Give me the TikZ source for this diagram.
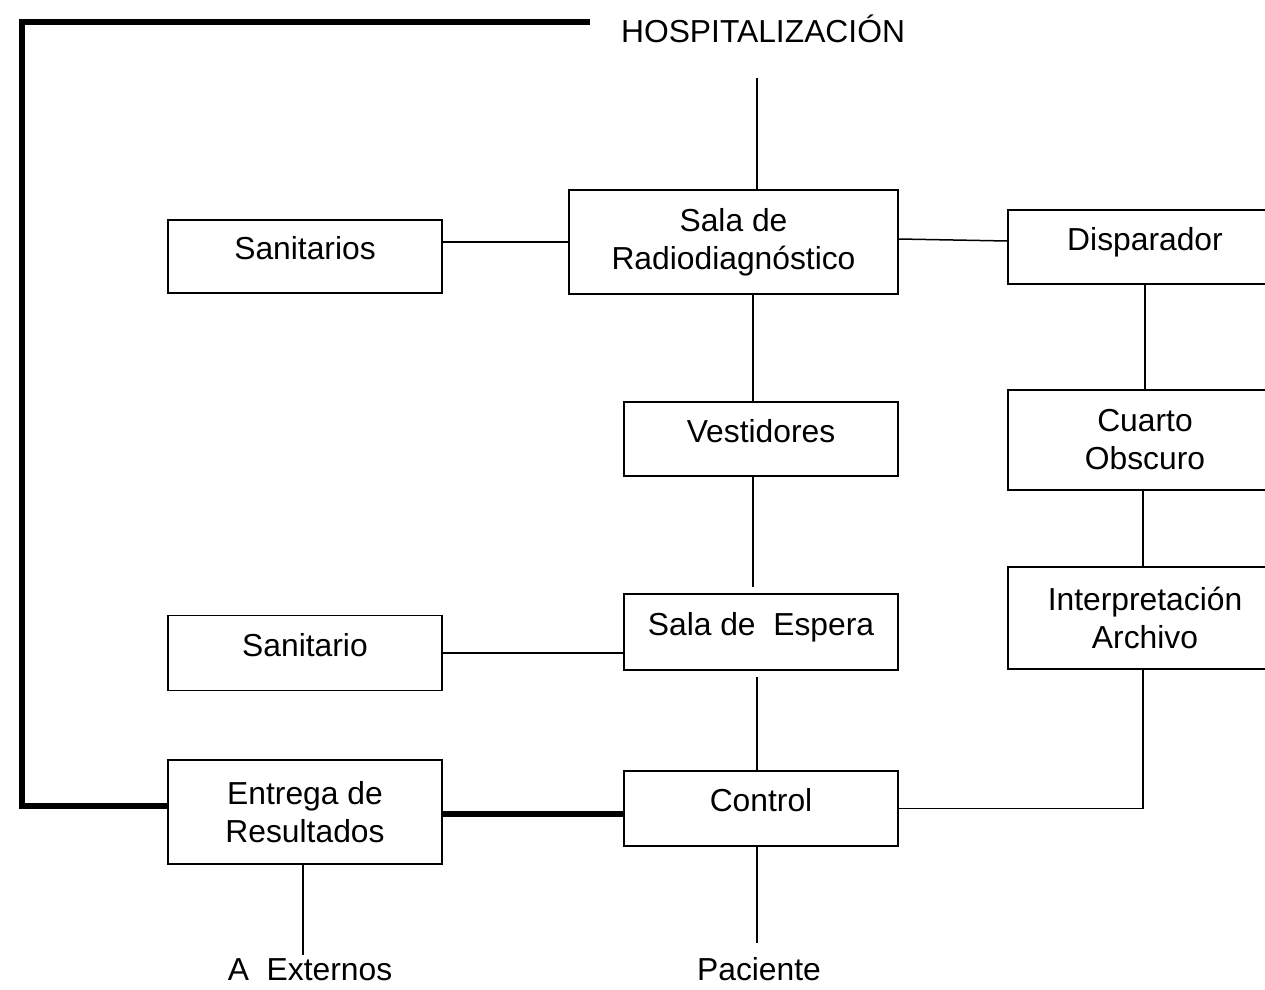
\documentclass[tikz,border=0pt]{standalone}
\usepackage{fontspec}
\setmainfont{Liberation Sans}
\usetikzlibrary{positioning,calc}
\tikzset{
  room/.style={
    rectangle, draw, line width=0.75pt, inner sep=0pt,
    minimum width=137pt, minimum height=37pt,
    align=center, font=\fontsize{15.9pt}{19pt}\selectfont
  },
  roomS/.style={
    room, text height=11.9pt, text depth=8.5pt
  },
  tag/.style={
    inner sep=0pt, text height=11.4pt, text depth=0pt,
    font=\fontsize{15.9pt}{19pt}\selectfont
  },
  link/.style={line width=0.75pt},
  wall/.style={line width=2.8pt}
}

\begin{document}
\begin{tikzpicture}[x=0.5pt, y=-0.5pt]
  \useasboundingbox (0,0) rectangle (1265,990);
  \clip (0,0) rectangle (1265,990);

  \node[tag] (hosp) at (763,31.5) {HOSPITALIZACIÓN};

  \node[room, minimum width=164.5pt, minimum height=52pt]
    (sala) at (733.5,242) {Sala de\\Radiodiagnóstico};
  \node[roomS, minimum height=36.5pt] (san1) at (305,256.5) {Sanitarios};
  \node[roomS, minimum height=37pt] (disp) at (1145,247) {Disparador};
  \node[room, minimum height=50pt] (cuarto) at (1145,440) {Cuarto\\Obscuro};
  \node[room, minimum height=51pt] (interp) at (1145,618) {Interpretación\\Archivo};

  \node[roomS, minimum height=37pt] (vest) at (761,439) {Vestidores};
  \node[roomS, minimum height=38pt] (espera) at (761,632) {Sala de\ \ Espera};
  \node[roomS, minimum height=37.5pt] (san2) at (305,652.8) {Sanitario};
  \node[room, minimum height=52pt] (entrega) at (305,812) {Entrega de\\Resultados};
  \node[roomS, minimum height=37.5pt] (control) at (761,808.5) {Control};

  \node[tag] (ext) at (310,969) {A\ \ Externos};
  \node[tag] (pac) at (759,969.5) {Paciente};

  \coordinate (hospW) at (590,22);
  \coordinate (hospS) at (757,78);
  \coordinate (retBL) at (22,806);

  \draw[wall] (hospW) -| (retBL) -- (retBL -| entrega.west);
  \draw[wall] ([yshift=-1pt]entrega.east) -- ([yshift=-1pt]entrega.east -| control.west);

  \draw[link] (hospS) -- (hospS |- sala.north);
  \draw[link] (sala.west) -- (sala.west -| san1.east);
  \draw[link] ([yshift=1.5pt]sala.east) -- ([yshift=3pt]disp.west);
  \draw[link] (disp.south) -- (cuarto.north);
  \draw[link] ([xshift=-1pt]cuarto.south) -- ([xshift=-1pt]interp.north);
  \draw[link] ([xshift=-1pt]interp.south) |- (control.east);
  \draw[link] ([xshift=-4pt]vest.north) -- ([xshift=-4pt]vest.north |- sala.south);
  \draw[link] ([xshift=-4pt]vest.south) -- ++(0,110);
  \draw[link] ([shift={(-2pt,-3pt)}]espera.south) -- ([xshift=-2pt]control.north);
  \draw[link] (san2.east) -- (san2.east -| espera.west);
  \draw[link, shorten >=1.3pt] ([xshift=-1pt]entrega.south) -- ([xshift=-1pt]entrega.south |- ext.north);
  \draw[link, shorten >=7.5pt] ([xshift=-2pt]control.south) -- ([xshift=-2pt]control.south |- pac.north);
\end{tikzpicture}
\end{document}
